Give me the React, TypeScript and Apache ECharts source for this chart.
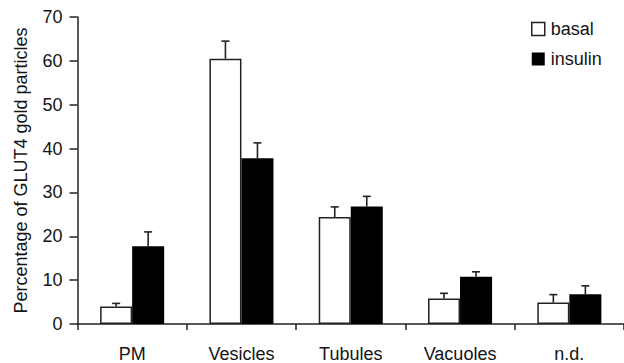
import React, { useEffect, useRef } from "react";
import * as echarts from "echarts";

const categories = ["PM", "Vesicles", "Tubules", "Vacuoles", "n.d."];
const basal = [4.0, 60.5, 24.4, 5.8, 4.9];
const basalErr = [0.7, 4.0, 2.3, 1.2, 1.8];
const insulin = [17.7, 37.8, 26.8, 10.8, 6.8];
const insulinErr = [3.3, 3.5, 2.3, 1.1, 1.9];
const yTicks = [0, 10, 20, 30, 40, 50, 60, 70];

const FONT = "'Liberation Sans', Arial, Helvetica, sans-serif";
const TEXT = "#141414";
const LINE = "#222222";
const BAR_FRAC = 0.293;

function errSeries(name: string, vals: number[], errs: number[], side: number) {
  return {
    name,
    type: "custom",
    z: 5,
    silent: true,
    encode: { x: 0, y: 1 },
    data: vals.map((v, i) => [i, v, errs[i]]),
    renderItem: (params: any, api: any) => {
      const i = api.value(0);
      const v = api.value(1);
      const e = api.value(2);
      const band = api.size([1, 0])[0];
      const off = (side * band * BAR_FRAC) / 2;
      const p0 = api.coord([i, v]);
      const p1 = api.coord([i, v + e]);
      const x = p0[0] + off;
      const cap = 4;
      const style = { stroke: LINE, lineWidth: 1.6, fill: null };
      return {
        type: "group",
        children: [
          { type: "line", shape: { x1: x, y1: p0[1], x2: x, y2: p1[1] }, style },
          { type: "line", shape: { x1: x - cap, y1: p1[1], x2: x + cap, y2: p1[1] }, style },
        ],
      };
    },
  };
}

export default function App() {
  const ref = useRef<HTMLDivElement>(null);
  useEffect(() => {
    if (!ref.current) return;
    const chart = echarts.init(ref.current, null, { renderer: "svg" });
    chart.setOption({
      animation: false,
      backgroundColor: "#ffffff",
      textStyle: { fontFamily: FONT },
      grid: { left: 77.5, right: 0, top: 17, bottom: 38, containLabel: false },
      legend: {
        orient: "vertical",
        left: 526,
        top: 15,
        icon: "rect",
        itemWidth: 13,
        itemHeight: 13,
        itemGap: 12,
        selectedMode: false,
        textStyle: { fontFamily: FONT, fontSize: 18, color: TEXT, padding: [0, 0, 0, 1] },
        data: [
          { name: "basal", itemStyle: { color: "#ffffff", borderColor: LINE, borderWidth: 1.5 } },
          { name: "insulin", itemStyle: { color: "#000000", borderColor: "#000000", borderWidth: 0 } },
        ],
      },
      xAxis: {
        type: "category",
        data: categories,
        boundaryGap: true,
        axisLine: { show: true, lineStyle: { color: LINE, width: 1.5 } },
        axisTick: { show: true, alignWithLabel: false, length: 6, lineStyle: { color: LINE, width: 1.5 } },
        axisLabel: { fontFamily: FONT, fontSize: 18, color: TEXT, margin: 21 },
        splitLine: { show: false },
      },
      yAxis: {
        type: "value",
        min: 0,
        max: 70,
        interval: 10,
        name: "Percentage of GLUT4 gold particles",
        nameLocation: "middle",
        nameGap: 48,
        nameTextStyle: { fontFamily: FONT, fontSize: 18, color: TEXT },
        axisLine: { show: true, lineStyle: { color: LINE, width: 1.5 } },
        axisTick: { show: true, inside: false, length: 8, lineStyle: { color: LINE, width: 1.5 } },
        axisLabel: {
          fontFamily: FONT,
          fontSize: 18,
          color: TEXT,
          margin: 15,
          formatter: (v: number) => (yTicks.includes(v) ? String(v) : ""),
        },
        splitLine: { show: false },
      },
      series: [
        {
          name: "basal",
          type: "bar",
          data: basal,
          barWidth: BAR_FRAC * 100 + "%",
          barGap: "0%",
          itemStyle: { color: "#ffffff", borderColor: LINE, borderWidth: 1.5 },
        },
        {
          name: "insulin",
          type: "bar",
          data: insulin,
          barWidth: BAR_FRAC * 100 + "%",
          barGap: "0%",
          itemStyle: { color: "#000000" },
        },
        errSeries("basalErr", basal, basalErr, -1),
        errSeries("insulinErr", insulin, insulinErr, 1),
      ],
    });
    return () => chart.dispose();
  }, []);
  return (
    <div
      ref={ref}
      style={{ position: "fixed", left: 0, top: 0, width: 624, height: 363, background: "#fff" }}
    />
  );
}
